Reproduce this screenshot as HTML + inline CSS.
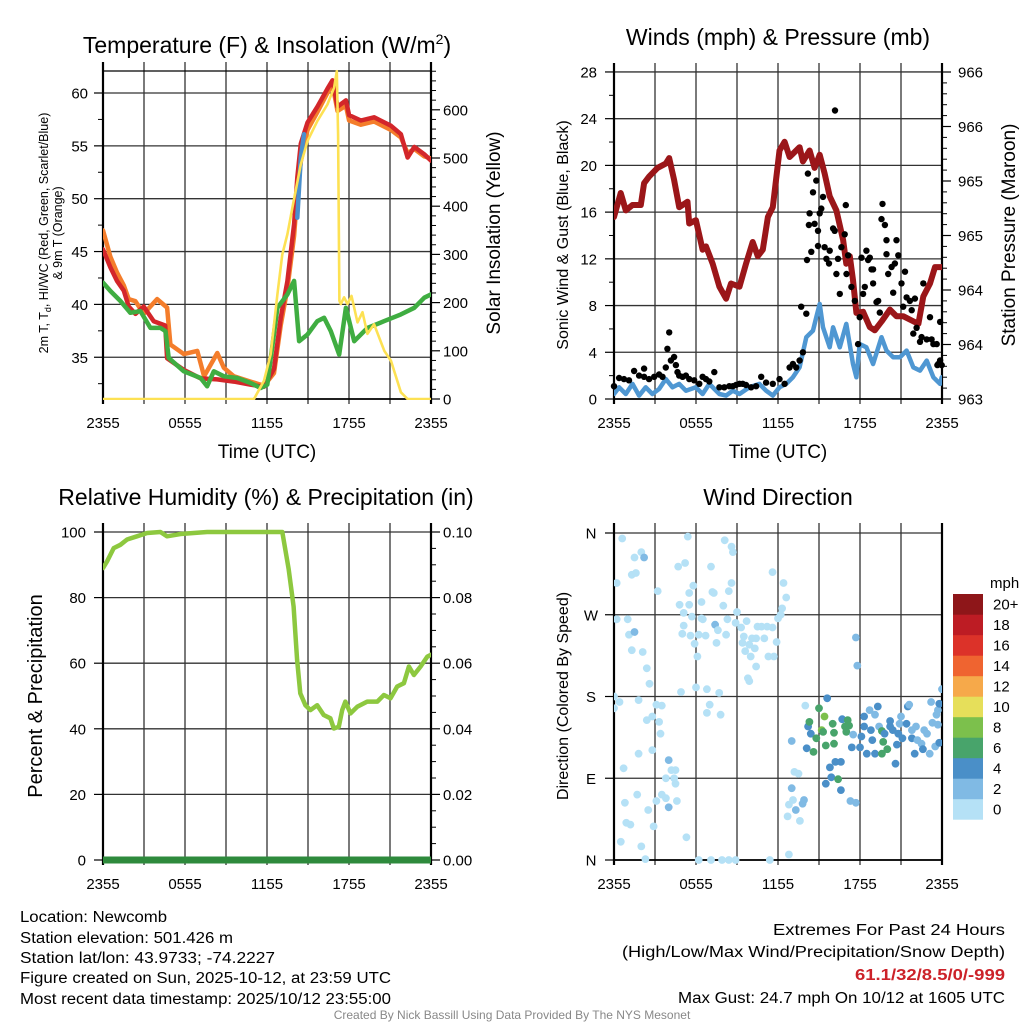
<!DOCTYPE html>
<html><head><meta charset="utf-8">
<style>
html,body{margin:0;padding:0;background:#fff;}
svg{display:block;font-family:"Liberation Sans",Arial,sans-serif;}
</style></head>
<body>
<svg id="chart" xmlns="http://www.w3.org/2000/svg" width="1024" height="1024" viewBox="0 0 1024 1024">
<rect x="0" y="0" width="1024" height="1024" fill="#fff"/>
<defs>
<clipPath id="c1"><rect x="103" y="60" width="328" height="340"/></clipPath>
<clipPath id="c2"><rect x="614" y="60" width="328" height="340"/></clipPath>
<clipPath id="c3"><rect x="103" y="515" width="328" height="350"/></clipPath>
<clipPath id="c4"><rect x="614" y="515" width="328" height="350"/></clipPath>
</defs>
<!-- Titles -->
<text x="267" y="53" font-size="23" text-anchor="middle">Temperature (F) &amp; Insolation (W/m<tspan dy="-9" font-size="14">2</tspan><tspan dy="9">)</tspan></text>
<text x="778" y="45" font-size="23" text-anchor="middle">Winds (mph) &amp; Pressure (mb)</text>
<text x="266" y="505" font-size="23" text-anchor="middle">Relative Humidity (%) &amp; Precipitation (in)</text>
<text x="778" y="505" font-size="23" text-anchor="middle">Wind Direction</text>
<!-- axis titles -->
<text x="267" y="458" font-size="19" text-anchor="middle">Time (UTC)</text>
<text x="778" y="458" font-size="19" text-anchor="middle">Time (UTC)</text>
<text transform="translate(48,233) rotate(-90)" font-size="12.5" text-anchor="middle">2m T, T<tspan dy="3" font-size="9">d</tspan><tspan dy="-3">, HI/WC (Red, Green, Scarlet/Blue)</tspan></text>
<text transform="translate(62,233) rotate(-90)" font-size="12.5" text-anchor="middle">&amp; 9m T (Orange)</text>
<text transform="translate(500,233) rotate(-90)" font-size="19" text-anchor="middle">Solar Insolation (Yellow)</text>
<text transform="translate(568,235) rotate(-90)" font-size="16" text-anchor="middle">Sonic Wind &amp; Gust (Blue, Black)</text>
<text transform="translate(1015,235) rotate(-90)" font-size="19" text-anchor="middle">Station Pressure (Maroon)</text>
<text transform="translate(42,696) rotate(-90)" font-size="20" text-anchor="middle">Percent &amp; Precipitation</text>
<text transform="translate(568,696) rotate(-90)" font-size="16" text-anchor="middle">Direction (Colored By Speed)</text>
<!-- footer -->
<g font-size="15.5">
<text x="20" y="922" textLength="147" lengthAdjust="spacingAndGlyphs">Location: Newcomb</text>
<text x="20" y="943" textLength="213" lengthAdjust="spacingAndGlyphs">Station elevation: 501.426 m</text>
<text x="20" y="963" textLength="255" lengthAdjust="spacingAndGlyphs">Station lat/lon: 43.9733; -74.2227</text>
<text x="20" y="983" textLength="371" lengthAdjust="spacingAndGlyphs">Figure created on Sun, 2025-10-12, at 23:59 UTC</text>
<text x="20" y="1004" textLength="371" lengthAdjust="spacingAndGlyphs">Most recent data timestamp: 2025/10/12 23:55:00</text>
</g>
<g font-size="15.5">
<text x="773" y="935" textLength="232" lengthAdjust="spacingAndGlyphs">Extremes For Past 24 Hours</text>
<text x="622" y="957" textLength="383" lengthAdjust="spacingAndGlyphs">(High/Low/Max Wind/Precipitation/Snow Depth)</text>
<text x="855" y="980" textLength="150" lengthAdjust="spacingAndGlyphs" font-weight="bold" fill="#cc2229">61.1/32/8.5/0/-999</text>
<text x="678" y="1003" textLength="327" lengthAdjust="spacingAndGlyphs">Max Gust: 24.7 mph On 10/12 at 1605 UTC</text>
</g>
<text x="512" y="1019" font-size="12" fill="#888" text-anchor="middle">Created By Nick Bassill Using Data Provided By The NYS Mesonet</text>
<g id="layer"></g>
</svg>
<script>
// ---------- DATA ----------
const timeLabels = ['2355','0555','1155','1755','2355'];
const timeLabelHours = [0,6,12,18,24];
const gridHours = [0,3,6,9,12,15,18,21,24];

const tempTicks = [35,40,45,50,55,60];
const solarTicks = [0,100,200,300,400,500,600];
const windTicks = [0,4,8,12,16,20,24,28];
const presTickValues = [963,963.5,964,964.5,965,965.5,966];
const presTickLabels = ['963','964','964','965','965','966','966'];
const rhTicks = [0,20,40,60,80,100];
const precipTickValues = [0,0.02,0.04,0.06,0.08,0.10];
const precipTickLabels = ['0.00','0.02','0.04','0.06','0.08','0.10'];
const dirTickValues = [0,90,180,270,360];
const dirTickLabels = ['N','E','S','W','N'];
const speedBins = ['0','2','4','6','8','10','12','14','16','18','20+'];
const speedColors = ['#b5e1f6','#80bae4','#4a8fc8','#48a46b','#7cc04c','#e6df5a','#f6a94a','#ef6430','#dc3229','#bd1c24','#8e1619'];

const tempHours = [0,.54,1.03,1.52,1.88,2.37,2.98,3.71,4.55,4.69,5.91,7.14,8.36,9.58,10.8,11.78,12.51,13.0,13.49,13.98,14.22,14.47,14.96,15.69,16.42,16.79,17.16,17.77,18.01,18.87,19.84,21.07,21.8,22.29,22.78,23.51,24.0];
const tempValues = [45.2,43.5,42.2,41.3,39.8,39.1,39.8,38.4,38.0,34.9,33.8,33.0,32.9,32.7,32.4,32.2,33.9,38.7,42.2,47.6,52.0,55.2,57.2,58.7,60.4,61.2,58.7,59.3,57.9,57.4,57.7,56.9,56.1,53.9,54.9,54.2,53.6];
const temp9mHours = [0,.54,1.03,1.52,1.88,2.37,2.98,3.96,4.69,4.93,5.91,6.9,7.4,8.36,8.85,9.58,10.8,11.78,12.51,13.0,13.49,13.98,14.22,14.47,14.96,15.69,16.42,16.79,17.16,17.77,18.01,18.87,19.84,21.07,21.8,22.29,22.78,23.51,24.0];
const temp9mValues = [47.0,44.5,43.0,41.8,40.5,40.3,39.1,40.5,39.7,36.2,35.3,35.6,33.2,35.4,34.0,33.2,32.7,32.3,33.5,38.0,41.5,46.5,50.5,53.5,56.5,58.2,60.0,60.8,58.3,58.8,57.4,57.0,57.3,56.5,55.8,54.3,54.7,54.0,53.8];
const dewHours = [0,.54,1.27,2.0,2.74,3.47,4.2,4.57,4.81,5.91,7.14,7.62,8.11,8.85,9.82,10.8,11.53,12.02,12.76,13.49,13.98,14.35,14.96,15.69,16.18,16.67,17.28,17.77,18.38,19.35,20.58,21.8,22.78,23.51,24];
const dewValues = [42.06,41.27,40.32,39.21,39.37,37.78,37.78,37.47,34.94,33.67,33.04,32.25,33.67,33.2,33.04,32.56,32.09,32.41,39.68,40.95,42.22,36.52,37.15,38.42,38.73,37.47,35.25,39.68,36.52,37.78,38.42,39.05,39.68,40.63,40.95];
const hiwcHours = [14.22,14.47,14.71];
const hiwcValues = [48.2,53.9,56.1];
const solarHours = [0,11.05,11.78,12.27,12.76,13.12,13.49,13.86,14.47,14.96,15.69,16.42,16.91,17.11,17.2,17.3,17.4,17.64,17.89,18.18,18.62,18.99,19.35,19.84,20.58,21.07,21.8,22.29,24];
const solarValues = [0,0,38,93,217,300,342,397,487,535,577,611,646,680,549,204,197,211,197,214,159,180,135,155,100,79,14,0,0];

const windHours = [0,.37,.86,1.35,1.84,2.32,2.81,3.3,3.79,4.28,4.77,5.26,5.99,6.48,6.97,7.71,8.2,8.69,9.18,9.91,10.64,11.13,11.62,12.11,12.6,13.09,13.58,14.07,14.56,14.8,15.05,15.29,15.78,16.03,16.52,17.0,17.49,17.74,17.98,18.47,18.96,19.57,19.94,20.43,20.92,21.41,21.9,22.39,22.88,23.37,23.86,23.98];
const windValues = [.43,1.0,.43,1.29,.29,1.0,.43,.86,1.71,1.0,1.29,.71,1.0,.43,1.29,.43,.29,.71,.43,1.0,1.29,.71,.29,1.0,1.29,1.86,2.71,5.29,5.86,7.0,8.14,6.14,4.43,6.14,4.43,6.43,3.0,1.86,4.71,4.43,3.0,5.29,4.14,3.57,3.57,4.14,2.71,2.43,3.29,1.86,1.29,1.86];
const gustHours = [0,.37,.73,1.10,1.47,1.84,2.20,2.20,2.57,2.94,3.30,3.55,3.79,3.91,4.04,4.16,4.40,4.53,4.65,4.77,5.02,5.26,5.51,5.87,6.24,6.48,6.73,6.97,7.34,7.71,8.07,8.44,8.69,8.93,9.18,9.42,9.66,10.03,10.40,10.77,11.13,11.62,12.11,12.48,12.85,13.09,13.33,13.58,13.70,13.82,14.07,14.12,14.44,14.26,14.19,14.56,14.80,14.31,14.68,14.93,15.05,15.17,15.29,14.93,15.41,15.54,15.78,15.73,16.03,16.15,16.27,16.39,16.52,16.64,16.88,16.96,17.01,17.13,17.37,17.62,17.86,17.98,18.11,18.23,18.35,18.47,18.59,18.72,18.84,18.96,18.96,19.21,19.33,19.45,19.65,19.57,19.82,19.94,19.94,20.06,20.31,20.43,20.55,20.67,20.80,21.04,21.16,21.29,21.41,21.65,21.78,21.90,22.02,22.14,22.39,22.51,22.63,22.88,23.12,23.24,23.37,23.61,23.73,23.86,23.86,23.98,23.66,16.17];
const gustValues = [1.1,1.8,1.7,1.6,2.4,2.0,2.6,1.9,1.7,1.9,2.1,1.9,2.7,4.3,5.7,3.3,3.6,2.9,2.3,2.0,1.9,2.0,1.7,1.6,1.3,1.9,1.7,1.5,2.3,1.0,1.0,1.1,1.1,1.2,1.3,1.3,1.2,1.0,1.1,1.9,1.4,1.3,1.7,1.3,2.7,3.0,2.7,3.3,7.9,4.0,7.3,11.9,12.6,14.9,19.3,17.7,18.7,15.9,15.0,14.4,15.9,16.3,17.3,13.1,13.0,12.0,12.7,11.6,14.6,14.4,10.7,12.0,9.0,13.0,14.1,16.6,10.7,12.3,9.6,8.4,4.7,7.0,12.1,9.0,9.6,12.7,11.9,12.1,11.1,9.9,11.1,8.3,8.4,7.4,16.7,15.4,14.9,13.6,12.4,10.7,11.3,9.1,11.6,13.6,12.3,9.9,7.9,10.9,8.7,8.4,7.6,5.6,8.6,6.1,4.9,5.3,9.9,5.1,7.0,5.1,4.7,4.7,3.0,6.6,3.3,2.9,2.9,24.7];
const pressHours = [0,.49,.86,1.35,1.96,2.2,2.57,3.18,3.79,4.04,4.4,4.77,5.38,5.5,5.99,6.48,6.73,7.22,7.71,8.2,8.56,9.18,9.66,10.15,10.52,10.89,11.26,11.62,12.11,12.48,12.85,13.58,13.82,14.31,14.68,15.05,15.41,15.78,16.27,16.76,17.0,17.25,17.49,17.74,18.23,18.72,19.08,19.57,20.19,20.67,21.16,21.78,22.27,22.63,23.12,23.49,23.98];
const pressValues = [964.67,964.89,964.73,964.78,964.78,964.98,965.04,965.12,965.16,965.21,965.01,964.76,964.81,964.61,964.64,964.37,964.40,964.24,964.03,963.92,964.06,964.03,964.24,964.44,964.31,964.37,964.67,964.76,965.28,965.36,965.22,965.31,965.18,965.28,965.12,965.24,965.07,964.86,964.73,964.46,964.24,964.31,964.09,963.79,963.80,963.66,963.63,963.71,963.82,963.76,963.76,963.72,963.69,963.94,964.06,964.21,964.21];

const rhHours = [0,.29,.78,1.27,1.76,2.49,3.23,4.2,4.69,5.67,6.64,7.62,13.12,13.59,13.95,14.2,14.44,14.81,15.18,15.67,16.15,16.64,16.89,17.25,17.5,17.74,18.11,18.6,19.33,20.07,20.55,21.04,21.53,22.02,22.38,22.75,23.24,23.73,24];
const rhValues = [89,91,95.1,96.1,97.7,98.7,99.7,100,98.7,99.4,99.7,100,100,88.6,77.3,61.0,50.8,47.2,45.7,47.2,44.2,43.2,40.1,40.6,45.7,48.3,44.7,46.7,48.3,48.3,50.3,49.3,52.9,53.9,59.0,56.4,59.0,62.0,62.6];
const precipHours = [0,24];
const precipValues = [0,0];

const dirHours = [0.6,0.2,0.2,1.0,1.1,1.5,1.3,2.1,2.4,2.6, 0,0,0.4,1.8,2.4,2.8,1.8,0.7,2.8,3.3, 3.4,3.1,3.5,1.7,0.8,0.9,1.2,0.5,2.0,2.3, 2.5,2.9,3.1,3.5,3.8,4.0,4.2,4.5,3.8,4.4, 4.5,4.6,4.0,5.3,1.3,1.6,1.5,2.0,2.2,3.2, 4.7,5.2,5.4,4.8,5.1,5.5,5.5,5.8,6.4,5.7, 5.1,5.0,5.6,5.9,6.1,6.0,6.8,7.7,4.9,7.0, 6.8,7.8,6.4,6.5,6.2,6.7,7.5,7.4,7.6,8.2, 8.3,7.1,7.2,7.3,8.0,8.1,8.6,8.6,8.7,8.4, 9.0,8.9,9.3,9.5,9.7,9.4,9.6,9.9,10.1,10.4, 10.5,10.8,10.0,10.4,9.8,9.9,10.3,11.0,11.2,11.6, 11.3,11.7,11.9,12.0,11.6,12.4,12.6,12.3,12.2,6.2, 7.1,7.9,8.4,8.9,11.4,12.8,12.7,12.8,13.1,13.2, 13.5,13.0,13.3,13.6,13.8,13.9,14.0,
 13.0,14.1,14.2,14.3,14.4,14.6,14.8,15.0,15.2,15.3, 15.4,15.5,15.6,15.8,15.9,15.5,16.0,16.1,16.2,16.1, 16.4,16.6,16.6,16.7,16.9,17.0,17.1,17.2,17.4,17.5, 17.3,17.7,17.7,17.8,18.0,18.1,18.3,18.3,18.5,18.7, 18.8,18.9,19.1,19.1,19.3,19.4,19.6,19.6,19.7,19.8, 20.0,20.2,20.2,20.4,20.6,20.7,20.8,20.9,21.0,21.1, 21.4,21.5,21.6,21.8,21.8,22.0,22.1,22.2,22.5,22.6, 22.7,22.9,23.1,23.2,23.3,23.5,23.6,23.7,23.8,23.8, 24.0,23.7];
const dirDegrees = [354,305,265,265,248,251,231,229,211,194, 180,167,174,176,154,158,117,101,121,152, 139,171,170,72,63,41,39,20,15,1, 55,37,65,72,68,110,99,99,90,90, 84,65,58,25,314,316,333,339,333,296, 323,327,356,281,272,281,294,302,284,268, 258,249,247,238,224,190,188,184,185,171, 162,160,266,265,248,247,239,259,253,248, 265,323,295,294,280,352,305,345,339,296, 273,261,256,246,263,239,230,237,244,244, 257,257,224,213,200,197,233,244,257,256, 224,224,240,266,317,305,289,277,270,0, 0,0,0,0,0,6,48,61,66,97, 95,79,55,43,62,66,170,
 131,123,147,152,139,119,134,167,143,141, 158,126,178,102,91,84,150,140,108,128, 89,77,108,155,147,141,154,148,124,138, 65,63,245,214,124,136,147,158,117,165, 143,132,117,160,169,147,142,117,130,139, 122,147,153,143,106,127,139,150,158,134, 150,169,171,143,134,117,147,132,128,122, 143,139,117,174,151,125,160,165,129,172, 188,149];
const dirSpeeds = [1,1,1,1,1,3,1,1,1,1, 1,1,1,1,1,1,1,1,1,1, 1,1,1,1,1,1,1,1,1,1, 1,1,1,1,1,3,1,1,1,1, 1,1,3,1,1,1,1,1,3,1, 1,1,1,1,1,1,1,1,1,1, 1,1,1,1,1,1,1,1,1,1, 1,1,1,1,1,1,1,3,1,1, 1,1,1,1,1,1,1,1,1,1, 1,1,1,1,1,1,1,1,1,1, 1,1,1,1,1,1,1,1,1,1, 1,1,1,1,1,1,1,1,1,1, 1,1,1,1,1,1,1,1,1,1, 1,3,3,1,3,3,1,
 3,5,5,7,5,7,7,7,9,7, 9,7,5,5,5,5,7,7,5,7, 7,5,5,5,7,7,7,7,5,3, 3,3,3,3,5,5,5,5,5,3, 5,5,5,3,5,3,7,7,7,5, 7,5,5,5,5,5,5,3,3,5, 5,5,3,3,5,5,3,3,3,5, 3,3,3,3,3,3,3,3,5,5, 3,3];

// ---------- SCALES ----------
const xA = t => 103 + t * 328 / 24;
const xB = t => 614 + t * 328 / 24;
const yTemp = v => 93 + (60 - v) * 10.57;
const ySolar = v => 399 - v * 0.482;
const yWind = v => 399 - v * 11.68;
const yPres = v => 399 - (v - 963) * 109;
const yRH = v => 860 - v * 3.28;
const yPrecip = v => 860 - v * 3280;
const yDir = v => 860 - v * 327 / 360;

// ---------- HELPERS ----------
const NS = 'http://www.w3.org/2000/svg';
const layer = document.getElementById('layer');
function el(tag, parent) { const e = document.createElementNS(NS, tag); parent.appendChild(e); return e; }
function ln(parent, x1, y1, x2, y2, color, w) {
  const e = el('line', parent);
  e.setAttribute('x1', x1); e.setAttribute('y1', y1); e.setAttribute('x2', x2); e.setAttribute('y2', y2);
  e.setAttribute('stroke', color); e.setAttribute('stroke-width', w);
  return e;
}
function txt(parent, x, y, s, anchor, size) {
  const e = el('text', parent);
  e.setAttribute('x', x); e.setAttribute('y', y); e.setAttribute('text-anchor', anchor);
  e.setAttribute('font-size', size); e.textContent = s;
  return e;
}
function series(parent, hours, vals, xs, ys, color, w, name, clip) {
  const p = el('polyline', parent);
  p.setAttribute('points', hours.map((h, i) => xs(h).toFixed(1) + ',' + ys(vals[i]).toFixed(1)).join(' '));
  p.setAttribute('fill', 'none'); p.setAttribute('stroke', color); p.setAttribute('stroke-width', w);
  p.setAttribute('stroke-linejoin', 'round'); p.setAttribute('stroke-linecap', 'round');
  p.setAttribute('clip-path', 'url(#' + clip + ')');
  
  
  return p;
}

function panel(name, xs, top, bottom, hGridVals, yfn) {
  const g = el('g', layer);
  
  
  const xl = xs(0), xr = xs(24);
  gridHours.forEach(h => {
    const v = ln(g, xs(h), top, xs(h), bottom + 5, '#333', 1.3);
    
    
  });
  hGridVals.forEach(val => {
    const hl = ln(g, xl, yfn(val), xr, yfn(val), '#333', 1.3);
    
    
  });
  const b = ln(g, xl - 1, bottom, xr + 1, bottom, '#000', 1.8);
  
  
  const l = ln(g, xl, top, xl, bottom + 5, '#000', 2.2);
  
  
  const r = ln(g, xr, top, xr, bottom + 5, '#000', 2.2);
  
  
  timeLabelHours.forEach((h, i) => {
    const t = txt(g, xs(h), bottom + 29, timeLabels[i], 'middle', 15);
    
    
  });
  return g;
}
function leftAxis(g, x, vals, labels, yfn, minors, lx) {
  vals.forEach((v, i) => {
    const tk = ln(g, x - 9, yfn(v), x, yfn(v), '#000', 1.2);
    
    
    const t = txt(g, lx, yfn(v) + 5.5, labels[i], 'end', 15);
    
    
  });
  minors.forEach(v => {
    const tk = ln(g, x - 5, yfn(v), x, yfn(v), '#000', 1);
    
    
  });
}
function rightAxis(g, x, vals, labels, yfn, minors, lx) {
  vals.forEach((v, i) => {
    const tk = ln(g, x, yfn(v), x + 9, yfn(v), '#000', 1.2);
    
    
    const t = txt(g, lx, yfn(v) + 5.5, labels[i], 'start', 15);
    
    
  });
  minors.forEach(v => {
    const tk = ln(g, x, yfn(v), x + 5, yfn(v), '#000', 1);
    
    
  });
}
function range(a, b, s, skip) { const r = []; for (let v = a; v <= b + 1e-9; v += s) { const q = Math.round(v * 1000) / 1000; if (!skip || Math.abs(q / skip - Math.round(q / skip)) > 1e-6) r.push(q); } return r; }

// ---------- PANEL 1: Temperature ----------
const g1 = panel('temperature-panel', xA, 62, 399, tempTicks, yTemp);
const top1 = ln(g1, 103, 71, 431, 71, '#000', 1.3);


leftAxis(g1, 103, tempTicks, tempTicks.map(String), yTemp, [32.5, 37.5, 42.5, 47.5, 52.5, 57.5, 62.5].filter(v => yTemp(v) > 70), 88);
rightAxis(g1, 431, solarTicks, solarTicks.map(String), ySolar, range(20, 680, 20, 100), 443);
series(g1, temp9mHours, temp9mValues, xA, yTemp, '#f47d2b', 4.5, 'temperature-9m-line', 'c1');
series(g1, tempHours, tempValues, xA, yTemp, '#d3262a', 4.5, 'temperature-2m-line', 'c1');
series(g1, dewHours, dewValues, xA, yTemp, '#3fad41', 4.5, 'dewpoint-line', 'c1');
series(g1, hiwcHours, hiwcValues, xA, yTemp, '#4a8fcc', 4.5, 'heat-index-windchill-line', 'c1');
series(g1, solarHours, solarValues, xA, ySolar, '#fde153', 2.6, 'solar-insolation-line', 'c1');

// ---------- PANEL 2: Wind ----------
const g2 = panel('wind-panel', xB, 63, 399, windTicks, yWind);
leftAxis(g2, 614, windTicks, windTicks.map(String), yWind, range(2, 26, 4), 597);
rightAxis(g2, 942, presTickValues, presTickLabels, yPres, range(963.1, 966, 0.1).filter(v => Math.abs(v * 2 - Math.round(v * 2)) > 1e-6), 958);
series(g2, windHours, windValues, xB, yWind, '#4f97d2', 4.5, 'sonic-wind-line', 'c2');
series(g2, pressHours, pressValues, xB, yPres, '#9b1619', 6, 'pressure-line', 'c2');
gustHours.forEach((h, i) => {
  const c = el('circle', g2);
  c.setAttribute('cx', xB(h).toFixed(1)); c.setAttribute('cy', yWind(gustValues[i]).toFixed(1));
  c.setAttribute('r', 3.2); c.setAttribute('fill', '#000');
  
  
});

// ---------- PANEL 3: RH ----------
const g3 = panel('humidity-panel', xA, 523, 860, rhTicks, yRH);
leftAxis(g3, 103, rhTicks, rhTicks.map(String), yRH, [], 86);
rightAxis(g3, 431, precipTickValues, precipTickLabels, yPrecip, range(0.005, 0.1, 0.005).filter(v => Math.abs(v * 50 - Math.round(v * 50)) > 1e-6), 443);
series(g3, rhHours, rhValues, xA, yRH, '#8dc83f', 4.5, 'relative-humidity-line', 'c3');
series(g3, precipHours, precipValues, xA, yPrecip, '#2e8a3c', 7, 'precipitation-line', 'c3');

// ---------- PANEL 4: Direction ----------
const g4 = panel('wind-direction-panel', xB, 523, 860, dirTickValues, yDir);
dirTickValues.forEach((v, i) => {
  const tk = ln(g4, 605, yDir(v), 614, yDir(v), '#000', 1.2);
  
  
  const t = txt(g4, 591, yDir(v) + 5.5, dirTickLabels[i], 'middle', 15);
  
  
});
const dotG = el('g', g4);
dotG.setAttribute('clip-path', 'url(#c4)');


dirHours.forEach((h, i) => {
  const c = el('circle', dotG);
  const bin = Math.min(10, Math.floor(dirSpeeds[i] / 2));
  c.setAttribute('cx', xB(h).toFixed(1)); c.setAttribute('cy', yDir(dirDegrees[i]).toFixed(1));
  c.setAttribute('r', 3.9); c.setAttribute('fill', speedColors[bin]);
  
  
});
// colorbar
const cb = el('g', layer);


const cbTitle = txt(cb, 990, 588, 'mph', 'start', 15);


speedBins.forEach((s, i) => {
  const y = 594 + (10 - i) * 20.5;
  const r = el('rect', cb);
  r.setAttribute('x', 953); r.setAttribute('y', y); r.setAttribute('width', 30); r.setAttribute('height', 20.7);
  r.setAttribute('fill', speedColors[i]);
  
  
  const t = txt(cb, 993, y + 15.5, s, 'start', 15);
  
  
});
</script>
</body></html>
